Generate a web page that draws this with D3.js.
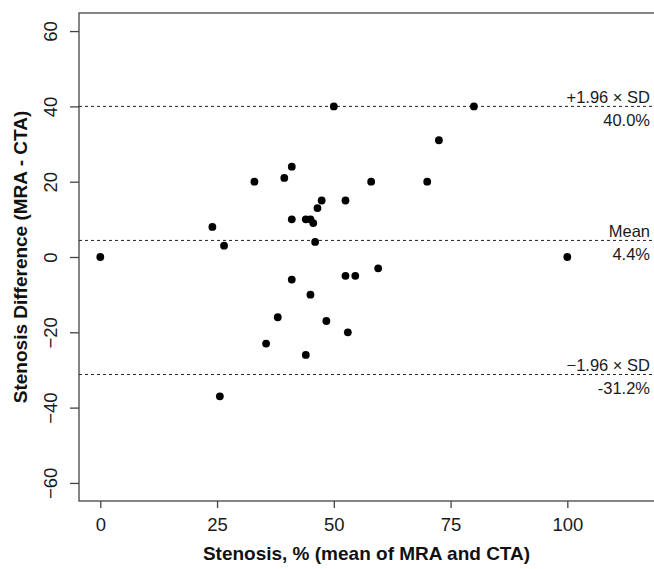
<!DOCTYPE html>
<html>
<head>
<meta charset="utf-8">
<script src="https://cdn.jsdelivr.net/npm/d3@7"></script>
<style>
  html, body { margin: 0; padding: 0; background: #fff; }
  svg { display: block; font-family: "Liberation Sans", Arial, sans-serif; }
</style>
</head>
<body>
<div id="chart"></div>
<script>
// mean of MRA and CTA stenosis (%)
const meanStenosis = [0, 24, 26.5, 33, 25.6, 35.5, 38, 39.4, 41, 41, 41, 44, 45, 45.6, 46, 46.5,
  47.4, 45, 44, 48.4, 50, 52.5, 52.5, 54.6, 53, 58, 59.5, 70, 72.5, 80, 100];
// difference MRA - CTA
const diffStenosis = [0, 8, 3, 20, -37, -23, -16, 21, 24, 10, -6, 10, 10, 9, 4, 13,
  15, -10, -26, -17, 40, 15, -5, -5, -20, 20, -3, 20, 31, 40, 0];

const xTicks = [0, 25, 50, 75, 100];
const yTicks = [-60, -40, -20, 0, 20, 40, 60];

const refLines = [
  { value: 40.0, top: "+1.96 \u00d7 SD", bottom: "40.0%" },
  { value: 4.4, top: "Mean", bottom: "4.4%" },
  { value: -31.2, top: "\u22121.96 \u00d7 SD", bottom: "-31.2%" }
];

const width = 654, height = 569;
const svg = d3.select('#chart').append('svg')
  .attr('width', width)
  .attr('height', height);

// R-style padded limits: xlim 0..114, ylim -60..60
const x = d3.scaleLinear().domain([-4.56, 118.56]).range([79, 654]);
const y = d3.scaleLinear().domain([-64.8, 64.8]).range([501, 13]);

// frame
svg.append('rect')
  .attr('x', 79).attr('y', 13)
  .attr('width', 576).attr('height', 488)
  .attr('fill', 'none')
  .attr('stroke', '#444')
  .attr('stroke-width', 1.3);

// axes
const xAxis = svg.append('g')
  .attr('transform', 'translate(0,501)')
  .call(d3.axisBottom(x).tickValues(xTicks).tickSize(7).tickSizeOuter(0));
xAxis.select('.domain').remove();
xAxis.selectAll('line').attr('stroke', '#444').attr('stroke-width', 1.3);
xAxis.selectAll('text')
  .attr('font-size', 18.5).attr('fill', '#1a1a1a')
  .attr('font-family', '"Liberation Sans", Arial, sans-serif')
  .attr('dy', null).attr('y', 30);

const yAxis = svg.append('g')
  .attr('transform', 'translate(79,0)')
  .call(d3.axisLeft(y).tickValues(yTicks).tickSize(9).tickSizeOuter(0));
yAxis.select('.domain').remove();
yAxis.selectAll('line').attr('stroke', '#444').attr('stroke-width', 1.3);
yAxis.selectAll('text')
  .attr('font-size', 18.5).attr('fill', '#1a1a1a')
  .attr('font-family', '"Liberation Sans", Arial, sans-serif')
  .attr('x', null).attr('dy', null)
  .attr('text-anchor', 'middle')
  .attr('transform', 'translate(-22.5,0) rotate(-90)');

// reference lines
svg.append('g').selectAll('line')
  .data(refLines).join('line')
  .attr('x1', 79).attr('x2', 654)
  .attr('y1', d => y(d.value)).attr('y2', d => y(d.value))
  .attr('stroke', '#222')
  .attr('stroke-width', 1)
  .attr('stroke-dasharray', '3,3');

const labels = svg.append('g')
  .attr('font-size', 16.5)
  .attr('fill', '#1a1a1a')
  .attr('text-anchor', 'end');
labels.selectAll('.top').data(refLines).join('text')
  .attr('class', 'top')
  .attr('x', 650)
  .attr('y', d => y(d.value) - 3.5)
  .text(d => d.top);
labels.selectAll('.bottom').data(refLines).join('text')
  .attr('class', 'bottom')
  .attr('x', 650)
  .attr('y', d => y(d.value) + 19.5)
  .text(d => d.bottom);

// points
svg.append('g').selectAll('circle')
  .data(meanStenosis.map((m, i) => [m, diffStenosis[i]]))
  .join('circle')
  .attr('cx', d => x(d[0]))
  .attr('cy', d => y(d[1]))
  .attr('r', 3.9)
  .attr('fill', '#000');

// axis titles
svg.append('text')
  .attr('x', 366.5).attr('y', 560)
  .attr('text-anchor', 'middle')
  .attr('font-size', 19).attr('font-weight', 'bold')
  .attr('fill', '#111')
  .text('Stenosis, % (mean of MRA and CTA)');

svg.append('text')
  .attr('transform', 'translate(27,257) rotate(-90)')
  .attr('text-anchor', 'middle')
  .attr('font-size', 19).attr('font-weight', 'bold')
  .attr('fill', '#111')
  .text('Stenosis Difference (MRA - CTA)');
</script>
</body>
</html>
